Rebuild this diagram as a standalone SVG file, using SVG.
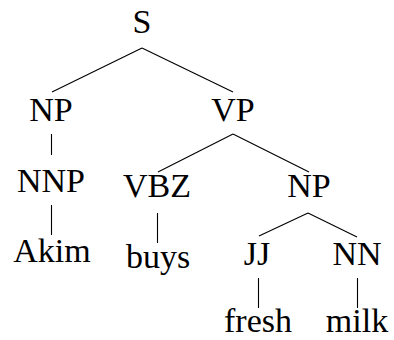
<svg xmlns="http://www.w3.org/2000/svg" width="394" height="340" viewBox="0 0 394 340">
<style>
text{font-family:"Liberation Serif","Times New Roman",serif;font-size:34px;fill:#000;text-anchor:middle}
line{stroke:#000;stroke-width:1.1}
</style>
<rect width="394" height="340" fill="#fff"/>
<g id="connectors">
<line x1="142" y1="48" x2="52" y2="92"/>
<line x1="142" y1="48" x2="233" y2="92"/>
<line x1="51.5" y1="134" x2="51.5" y2="155"/>
<line x1="233" y1="134" x2="158" y2="172"/>
<line x1="233" y1="134" x2="309" y2="172"/>
<line x1="51.5" y1="205" x2="51.5" y2="235"/>
<line x1="157.5" y1="213" x2="157.5" y2="243"/>
<line x1="308" y1="213" x2="259" y2="236"/>
<line x1="308" y1="213" x2="357" y2="237"/>
<line x1="258.5" y1="278" x2="258.5" y2="308"/>
<line x1="357.5" y1="278" x2="357.5" y2="308"/>
</g>
<g id="S"><text x="142" y="33">S</text></g>
<g id="NP1"><text x="51" y="121">NP</text></g>
<g id="VP"><text x="233" y="121">VP</text></g>
<g id="NNP"><text x="51" y="192">NNP</text></g>
<g id="Akim"><text x="52" y="262">Akim</text></g>
<g id="VBZ"><text x="157" y="197">VBZ</text></g>
<g id="buys"><text x="158" y="268">buys</text></g>
<g id="NP2"><text x="309" y="197">NP</text></g>
<g id="JJ"><text x="257" y="265">JJ</text></g>
<g id="NN"><text x="357" y="265">NN</text></g>
<g id="fresh"><text x="258" y="332">fresh</text></g>
<g id="milk"><text x="357" y="332">milk</text></g>
</svg>
